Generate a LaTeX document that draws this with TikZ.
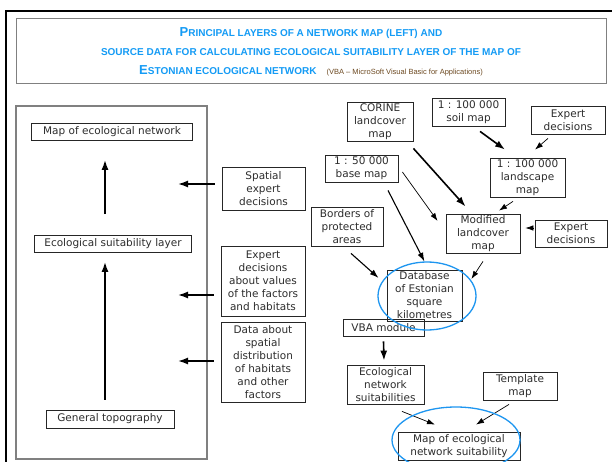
\documentclass[tikz,border=0pt]{standalone}
\usepackage{fontspec}
\setmainfont{DejaVu Sans}
\newfontfamily\titlefont{Liberation Sans}
\usepackage{tikz}
\usetikzlibrary{arrows.meta}

\definecolor{ttlblue}{RGB}{20,155,245}
\definecolor{ovalblue}{RGB}{30,150,240}
\definecolor{notebrown}{RGB}{110,75,35}
\definecolor{txtgray}{RGB}{45,45,45}

\tikzset{
  thk/.style={-{Latex[length=10pt,width=7pt]}, line width=1.6pt},
  mid/.style={-{Latex[length=9pt,width=6pt]}, line width=1.1pt},
  thn/.style={-{Latex[length=8pt,width=5.5pt]}, line width=0.7pt},
}

\begin{document}
\begin{tikzpicture}[x=1pt,y=-1pt]
\useasboundingbox (0,0) rectangle (612,462);
\fill[white] (0,0) rectangle (612,462);

% slide frame and title
\draw[line width=2.5pt] (6,462) -- (6,11) -- (612,11);
\draw[gray, line width=1pt] (16,19) rectangle (606,84);
\node (0) at (311,52) [align=center, text=ttlblue, font=\titlefont\bfseries\fontsize{10}{19}\selectfont]
 {{\fontsize{13}{19}\selectfont P}RINCIPAL LAYERS OF A NETWORK MAP (LEFT) AND\\
  SOURCE DATA FOR CALCULATING ECOLOGICAL SUITABILITY LAYER OF THE MAP OF\\
  {\fontsize{13}{19}\selectfont E}STONIAN ECOLOGICAL NETWORK\quad
  {\color{notebrown}\mdseries\fontsize{7.5}{19}\selectfont (VBA – MicroSoft Visual Basic for Applications)}};

% left panel
\draw[gray, line width=1.3pt] (16,106) rectangle (207,459);

\begin{scope}[every node/.style={draw=black!85, line width=0.8pt, align=center, text=txtgray, inner sep=1pt, font=\fontsize{10.5}{13}\selectfont}]
\node (1) [minimum width=161pt, minimum height=17pt] at (112,132) {Map of ecological network};
\node (2) [minimum width=157pt, minimum height=17pt] at (113,244) {Ecological suitability layer};
\node (3) [minimum width=128pt, minimum height=18pt] at (110,419) {General topography};

\node (4) [minimum width=83pt, minimum height=43pt] at (263.5,189) {Spatial\\expert\\decisions};
\node (5) [minimum width=84pt, minimum height=70pt] at (263,281) {Expert\\decisions\\about values\\of the factors\\and habitats};
\node (6) [minimum width=84pt, minimum height=80pt] at (263,362) {Data about\\spatial\\distribution\\of habitats\\and other\\factors};

\node (7) [minimum width=66pt, minimum height=39pt] at (380,121.5) {CORINE\\landcover\\map};
\node (8) [minimum width=73pt, minimum height=28pt] at (468.5,112) {1 : 100 000\\soil map};
\node (9) [minimum width=74pt, minimum height=28pt] at (568,120) {Expert\\decisions};
\node (10) [minimum width=73pt, minimum height=27pt] at (361.5,168.5) {1 : 50 000\\base map};
\node (11) [minimum width=75pt, minimum height=39pt] at (527.5,177.5) {1 : 100 000\\landscape\\map};
\node (12) [minimum width=72pt, minimum height=39pt] at (347,226.5) {Borders of\\protected\\areas};
\node (13) [minimum width=74pt, minimum height=39pt] at (483,233.5) {Modified\\landcover\\map};
\node (14) [minimum width=72pt, minimum height=27pt] at (571,233.5) {Expert\\decisions};
\node (15) [minimum width=75pt, minimum height=51pt] at (424.5,295.5) {Database\\of Estonian\\square\\kilometres};
\node (16) [minimum width=81pt, minimum height=17pt] at (383.5,327.5) {VBA module};
\node (17) [minimum width=77pt, minimum height=39pt] at (385.5,384.5) {Ecological\\network\\suitabilities};
\node (18) [minimum width=74pt, minimum height=28pt] at (520,386) {Template\\map};
\node (19) [minimum width=122pt, minimum height=28pt] at (459,446) {Map of ecological\\network suitability};
\end{scope}

% free ends of the side arrows
\coordinate (up) at (105,0);
\coordinate (c1) at (178,184);
\coordinate (c2) at (178,295);
\coordinate (c3) at (178,361);

% left panel arrows
\draw[thk, shorten <=21pt, shorten >=19pt] (2.north -| up) -- (1.south -| up);
\draw[thk, shorten <=10pt, shorten >=9pt] (3.north -| up) -- (2.south -| up);
\draw[thk, shorten <=7pt] (4.west |- c1) -- (c1);
\draw[thk, shorten <=7pt] (5.west |- c2) -- (c2);
\draw[thk, shorten <=7pt] (6.west |- c3) -- (c3);

% source data arrows
\draw[thk] ([yshift=-7pt]7.south east) -- ([xshift=20pt,yshift=7pt]13.north west);
\draw[thk] ([xshift=11.5pt,yshift=-5pt]8.south) -- ([xshift=-22.5pt,yshift=8pt]11.north);
\draw[thn] ([xshift=-20pt,yshift=-4pt]9.south) -- ([xshift=7.5pt,yshift=8pt]11.north);
\draw[thn] ([xshift=4pt,yshift=-3.5pt]10.east) -- ([xshift=-8pt,yshift=12.5pt]13.west);
\draw[mid] ([xshift=26.5pt,yshift=-8pt]10.south) -- ([yshift=8pt]15.north);
\draw[thn] ([xshift=-14.5pt,yshift=-4pt]11.south) -- ([xshift=16pt,yshift=3pt]13.north);
\draw[thn] ([xshift=-2pt,yshift=5.5pt]14.west) -- ([xshift=5pt,yshift=5.5pt]13.east);
\draw[mid] ([xshift=4pt,yshift=-7pt]12.south) -- ([xshift=-8pt,yshift=17.5pt]15.west);
\draw[thn] ([yshift=-8pt]13.south) -- ([xshift=9pt,yshift=16.5pt]15.east);
\draw[thk] ([yshift=-5pt]16.south) -- ([xshift=-1.5pt,yshift=4pt]17.north);
\draw[thn] ([xshift=16.5pt,yshift=-7pt]17.south) -- ([xshift=-24pt,yshift=7pt]19.north);
\draw[thn] ([xshift=-11pt,yshift=-4pt]18.south) -- ([xshift=17pt,yshift=7pt]19.north);

% highlight ovals
\draw[ovalblue, line width=1.3pt] (427,296) ellipse [x radius=49, y radius=34];
\draw[ovalblue, line width=1.3pt] (456,440) ellipse [x radius=64, y radius=33];
\end{tikzpicture}
\end{document}
